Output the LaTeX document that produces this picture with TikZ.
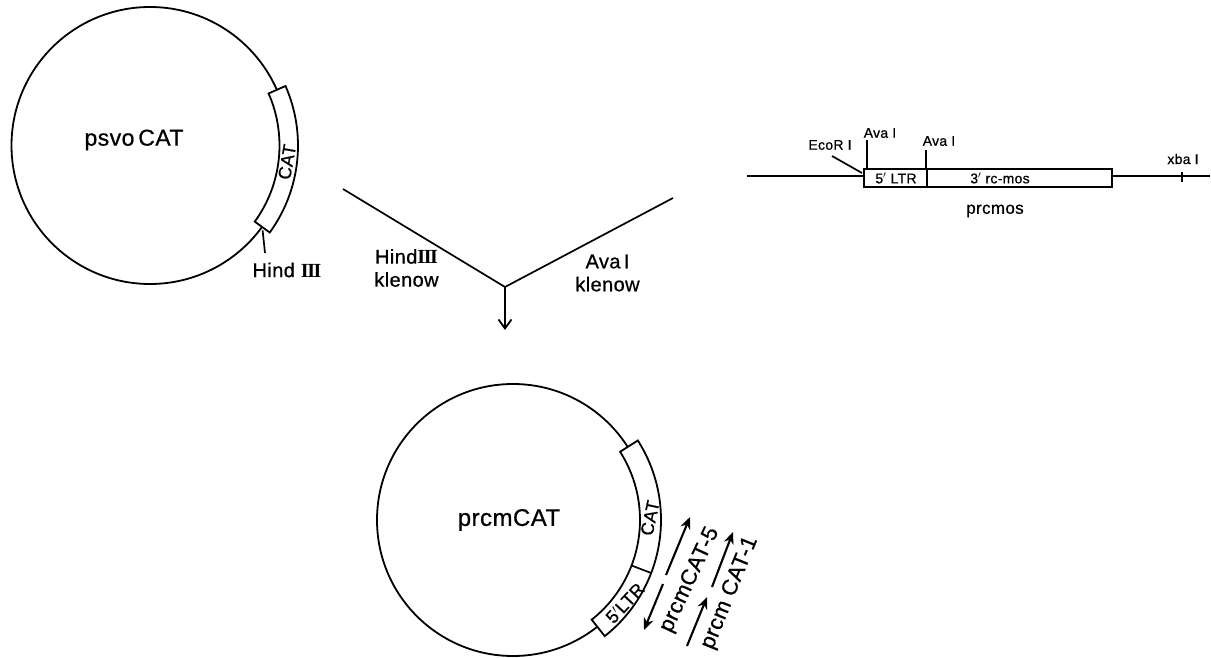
\documentclass[tikz,border=0pt]{standalone}
\usepackage{fontspec}
\setmainfont[FakeBold=0.7,LetterSpace=2]{Liberation Sans}
\newfontfamily\romfont{Liberation Serif}
\usetikzlibrary{arrows.meta}
\newcommand{\fs}[1]{\fontsize{#1}{#1}\selectfont}
\newcommand{\romIII}{{\romfont\bfseries I\kern-0.07em I\kern-0.07em I}}
\tikzset{
  ln/.style={line width=1.7pt,black},
  plasmid/.style={circle,draw,line width=1.8pt,inner sep=0pt},
  insert/.style={draw,line width=1.8pt,fill=white,line join=miter},
  lbl/.style={inner sep=0pt,text=black,align=center},
  readarrow/.style={line width=2.1pt,-{Stealth[length=12pt,width=10pt]}},
  barb/.style={line width=1.8pt,-{Straight Barb[length=9pt,width=13pt,line width=1.8pt]}}
}
\begin{document}
\begin{tikzpicture}[x=1pt,y=1pt]
\useasboundingbox (0,0) rectangle (1211,657);
% ---- psvoCAT
\node[plasmid,minimum size=277pt] (pA) at (150,511.5) {};
\begin{scope}[shift={(150,511.5)}]
  \draw[insert] (23.7:129.5) arc[start angle=23.7,end angle=-36,radius=129.5]
     -- (-36:148) arc[start angle=-36,end angle=23.7,radius=148] -- cycle;
  \coordinate (hA) at (-37:141);
\end{scope}
\node[lbl,font=\fs{23}] (psvo) at (134,517) {psvo\,CAT};
\node[lbl,font=\fs{18},rotate=80] (catA) at (287,495) {CAT};
\node[lbl,font=\fs{20}] (hindA) at (287,387) {Hind \romIII};
\coordinate (hAend) at (265,404);
\draw[ln] (hA) -- (hAend);
% ---- digest V
\coordinate (vL) at (343,468);
\coordinate (vR) at (673,459);
\coordinate (vM) at (505,370);
\coordinate (vE) at (505,327);
\draw[ln] (vL) -- (vM) -- (vR);
\draw[barb] (vM) -- (vE);
\node[lbl,font=\fs{20}] (kL) at (406.5,389) {Hind\romIII\\[3pt]klenow};
\node[lbl,font=\fs{20}] (kR) at (607.5,384) {Ava\,I\\[3pt]klenow};
% ---- prcmos map
\coordinate (lineL) at (747,481);
\coordinate (lineR) at (1210,481);
\draw[ln] (lineL) -- (lineR);
\node[insert,minimum width=248pt,minimum height=18pt,inner sep=0pt,line width=1.6pt,anchor=west] (mosbox) at (863,479) {};
\draw[ln] (927,488) coordinate (dvT) -- (927,470) coordinate (dvB);
\coordinate (xT) at (1182,485);
\coordinate (xB) at (1182,475);
\draw[ln] (xT) -- (xB);
\node[lbl,font=\fs{14}] (ltrM) at (896,479) {5$'$ LTR};
\node[lbl,font=\fs{14}] (rcM) at (1000,479) {3$'$ rc-mos};
\node[lbl,font=\fs{17}] (prcmos) at (995,446) {prcmos};
\node[lbl,font=\fs{14}] (ava1) at (880,524) {Ava I};
\node[lbl,font=\fs{14}] (ava2) at (939,516) {Ava I};
\node[lbl,font=\fs{14}] (eco) at (830,512) {EcoR I};
\node[lbl,font=\fs{14}] (xba) at (1183,498) {xba I};
\coordinate (a1T) at (867,517);
\coordinate (a1B) at (867,488);
\coordinate (a2T) at (926,507);
\coordinate (a2B) at (926,488);
\coordinate (ecoT) at (832,501);
\coordinate (ecoB) at (862,484);
\draw[ln] (a1T) -- (a1B);
\draw[ln] (a2T) -- (a2B);
\draw[ln] (ecoT) -- (ecoB);
% ---- prcmCAT
\node[plasmid,minimum size=272pt] (pB) at (513,137) {};
\begin{scope}[shift={(513,137)}]
  \draw[insert] (32.5:127) arc[start angle=32.5,end angle=-51.7,radius=127]
     -- (-51.7:148) arc[start angle=-51.7,end angle=32.5,radius=148] -- cycle;
  \draw[ln] (-21:127) coordinate (dA) -- (-21:148) coordinate (dB);
\end{scope}
\node[lbl,font=\fs{24}] (prcm) at (509,137) {prcmCAT};
\node[lbl,font=\fs{18},rotate=78] (catB) at (650,139) {CAT};
\node[lbl,font=\fs{18},rotate=47] (ltrB) at (625,54) {5$'$LTR};
% ---- transcript arrows
\coordinate (t1a) at (666,82);
\coordinate (t1b) at (690,140);
\coordinate (t2a) at (663,73);
\coordinate (t2b) at (644,27);
\coordinate (t3a) at (687,11);
\coordinate (t3b) at (707,60);
\coordinate (t4a) at (712,70);
\coordinate (t4b) at (733,125);
\draw[readarrow] (t1a) -- (t1b);
\draw[readarrow] (t2a) -- (t2b);
\draw[readarrow] (t3a) -- (t3b);
\draw[readarrow] (t4a) -- (t4b);
\node[lbl,font=\fs{22},rotate=65] (cat5) at (690,77) {prcmCAT-5};
\node[lbl,font=\fs{22},rotate=68] (cat1) at (730,64) {prcm CAT-1};
\end{tikzpicture}
\end{document}
